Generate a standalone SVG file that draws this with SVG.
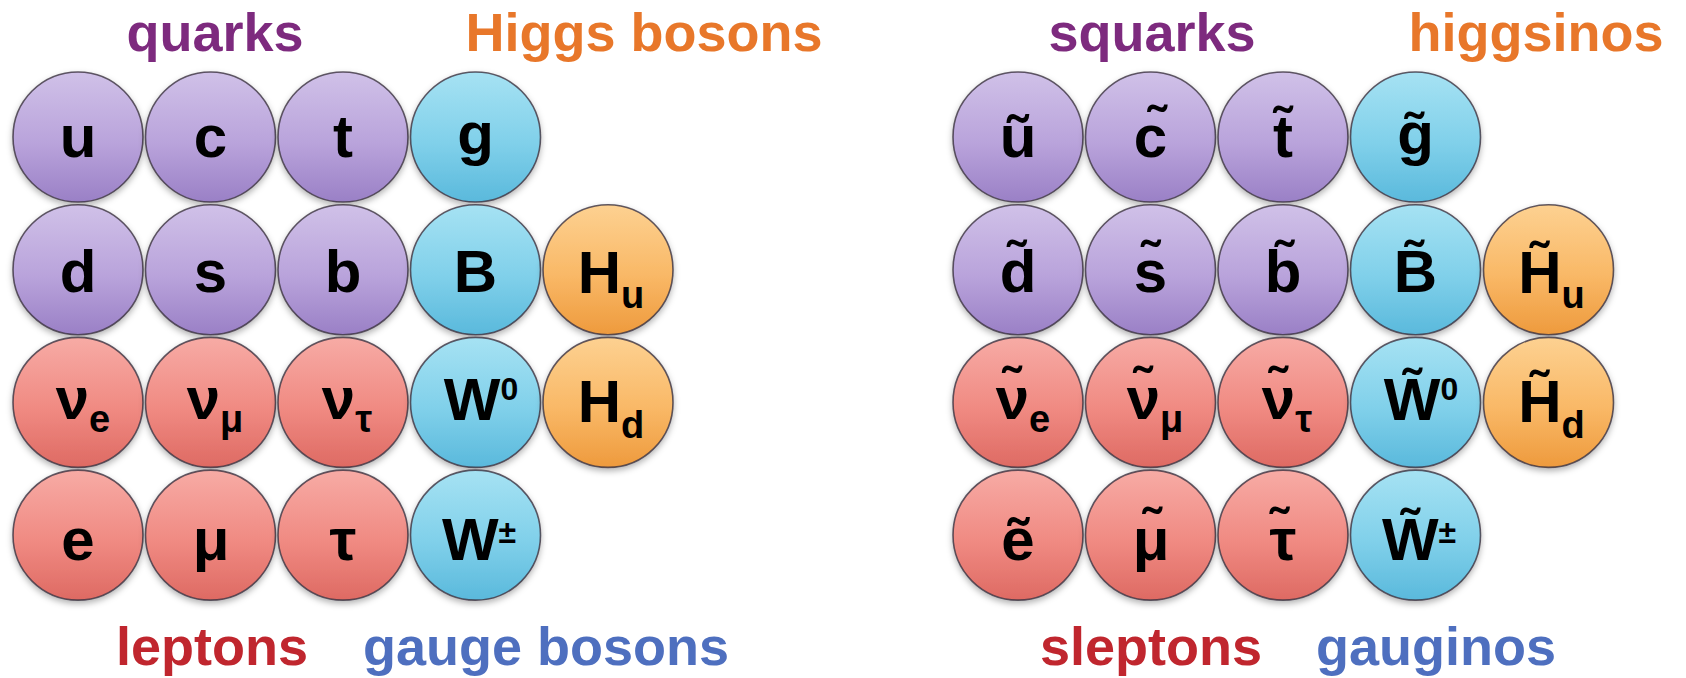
<svg xmlns="http://www.w3.org/2000/svg" width="1686" height="678" viewBox="0 0 1686 678">
<defs>
<style>
.lbl{font-family:"Liberation Sans",Arial,Helvetica,sans-serif;font-weight:bold;font-size:54px;text-anchor:middle}
.sym{font-family:"Liberation Sans",Arial,Helvetica,sans-serif;font-weight:bold;font-size:60px;fill:#000;text-anchor:middle}
.sub{font-size:38px}
.sup{font-size:32px}
.ball{stroke:#3b3240;stroke-width:1.6;stroke-opacity:0.8;filter:url(#sh)}
.pu{fill:url(#gPu)}
.bl{fill:url(#gBl)}
.or{fill:url(#gOr)}
.rd{fill:url(#gRd)}
</style>
<linearGradient id="gPu" x1="0" y1="0" x2="0" y2="1"><stop offset="0" stop-color="#d0c1e8"/><stop offset="0.55" stop-color="#b9a3db"/><stop offset="1" stop-color="#9a80c6"/></linearGradient>
<linearGradient id="gBl" x1="0" y1="0" x2="0" y2="1"><stop offset="0" stop-color="#a6e2f3"/><stop offset="0.55" stop-color="#80d0ea"/><stop offset="1" stop-color="#5ab9dc"/></linearGradient>
<linearGradient id="gOr" x1="0" y1="0" x2="0" y2="1"><stop offset="0" stop-color="#fdd191"/><stop offset="0.55" stop-color="#f9b866"/><stop offset="1" stop-color="#ee9a3d"/></linearGradient>
<linearGradient id="gRd" x1="0" y1="0" x2="0" y2="1"><stop offset="0" stop-color="#f7aba5"/><stop offset="0.55" stop-color="#f08a82"/><stop offset="1" stop-color="#de6a63"/></linearGradient>
<filter id="sh" x="-20%" y="-20%" width="140%" height="150%"><feDropShadow dx="0" dy="3" stdDeviation="3" flood-color="#000" flood-opacity="0.3"/></filter>
</defs>
<rect width="1686" height="678" fill="#fff"/>

<g id="labels">
<text class="lbl" x="215" y="51" fill="#7d2a7e">quarks</text>
<text class="lbl" x="644" y="51" fill="#e8772a">Higgs bosons</text>
<text class="lbl" x="212" y="665" fill="#c0262e">leptons</text>
<text class="lbl" x="546" y="665" fill="#4e6fbf">gauge bosons</text>
<text class="lbl" x="1152" y="51" fill="#7d2a7e">squarks</text>
<text class="lbl" x="1536" y="51" fill="#e8772a">higgsinos</text>
<text class="lbl" x="1151" y="665" fill="#c0262e">sleptons</text>
<text class="lbl" x="1436" y="665" fill="#4e6fbf">gauginos</text>
</g>

<g id="connectors"/>

<!-- Standard Model -->
<g id="sm-u"><circle class="ball pu" cx="78" cy="137" r="65"/><text class="sym" x="78" y="157">u</text></g>
<g id="sm-c"><circle class="ball pu" cx="210.5" cy="137" r="65"/><text class="sym" x="210.5" y="157">c</text></g>
<g id="sm-t"><circle class="ball pu" cx="343" cy="137" r="65"/><text class="sym" x="343" y="157">t</text></g>
<g id="sm-g"><circle class="ball bl" cx="475.5" cy="137" r="65"/><text class="sym" x="475.5" y="154">g</text></g>

<g id="sm-d"><circle class="ball pu" cx="78" cy="269.7" r="65"/><text class="sym" x="78" y="292">d</text></g>
<g id="sm-s"><circle class="ball pu" cx="210.5" cy="269.7" r="65"/><text class="sym" x="210.5" y="292">s</text></g>
<g id="sm-b"><circle class="ball pu" cx="343" cy="269.7" r="65"/><text class="sym" x="343" y="292">b</text></g>
<g id="sm-B"><circle class="ball bl" cx="475.5" cy="269.7" r="65"/><text class="sym" x="475.5" y="292">B</text></g>
<g id="sm-Hu"><circle class="ball or" cx="608" cy="269.7" r="65"/><text class="sym" x="611" y="293">H<tspan class="sub" dy="15">u</tspan></text></g>

<g id="sm-ve"><circle class="ball rd" cx="78" cy="402.4" r="65"/><text class="sym" x="83" y="419">ν<tspan class="sub" dy="13">e</tspan></text></g>
<g id="sm-vmu"><circle class="ball rd" cx="210.5" cy="402.4" r="65"/><text class="sym" x="215" y="419">ν<tspan class="sub" dy="13">μ</tspan></text></g>
<g id="sm-vtau"><circle class="ball rd" cx="343" cy="402.4" r="65"/><text class="sym" x="347" y="419">ν<tspan class="sub" dy="13">τ</tspan></text></g>
<g id="sm-W0"><circle class="ball bl" cx="475.5" cy="402.4" r="65"/><text class="sym" x="481" y="420">W<tspan class="sup" dy="-20">0</tspan></text></g>
<g id="sm-Hd"><circle class="ball or" cx="608" cy="402.4" r="65"/><text class="sym" x="611" y="422">H<tspan class="sub" dy="16">d</tspan></text></g>

<g id="sm-e"><circle class="ball rd" cx="78" cy="535.1" r="65"/><text class="sym" x="78" y="560">e</text></g>
<g id="sm-mu"><circle class="ball rd" cx="210.5" cy="535.1" r="65"/><text class="sym" x="211" y="560">μ</text></g>
<g id="sm-tau"><circle class="ball rd" cx="343" cy="535.1" r="65"/><text class="sym" x="343" y="560">τ</text></g>
<g id="sm-Wpm"><circle class="ball bl" cx="475.5" cy="535.1" r="65"/><text class="sym" x="479" y="560">W<tspan class="sup" dy="-17">±</tspan></text></g>

<!-- Superpartners -->
<g id="sp-u"><circle class="ball pu" cx="1018" cy="137" r="65"/><text class="sym" x="1018" y="157">u&#x303;</text></g>
<g id="sp-c"><circle class="ball pu" cx="1150.5" cy="137" r="65"/><text class="sym" x="1150.5" y="157">c&#x303;</text></g>
<g id="sp-t"><circle class="ball pu" cx="1283" cy="137" r="65"/><text class="sym" x="1283" y="157">t&#x303;</text></g>
<g id="sp-g"><circle class="ball bl" cx="1415.5" cy="137" r="65"/><text class="sym" x="1415.5" y="154">g&#x303;</text></g>

<g id="sp-d"><circle class="ball pu" cx="1018" cy="269.7" r="65"/><text class="sym" x="1018" y="292">d&#x303;</text></g>
<g id="sp-s"><circle class="ball pu" cx="1150.5" cy="269.7" r="65"/><text class="sym" x="1150.5" y="292">s&#x303;</text></g>
<g id="sp-b"><circle class="ball pu" cx="1283" cy="269.7" r="65"/><text class="sym" x="1283" y="292">b&#x303;</text></g>
<g id="sp-B"><circle class="ball bl" cx="1415.5" cy="269.7" r="65"/><text class="sym" x="1415.5" y="292">B&#x303;</text></g>
<g id="sp-Hu"><circle class="ball or" cx="1548.5" cy="269.7" r="65"/><text class="sym" x="1551.5" y="293">H&#x303;<tspan class="sub" dy="15">u</tspan></text></g>

<g id="sp-ve"><circle class="ball rd" cx="1018" cy="402.4" r="65"/><text class="sym" x="1023" y="419">ν&#x303;<tspan class="sub" dy="13">e</tspan></text></g>
<g id="sp-vmu"><circle class="ball rd" cx="1150.5" cy="402.4" r="65"/><text class="sym" x="1155" y="419">ν&#x303;<tspan class="sub" dy="13">μ</tspan></text></g>
<g id="sp-vtau"><circle class="ball rd" cx="1283" cy="402.4" r="65"/><text class="sym" x="1287" y="419">ν&#x303;<tspan class="sub" dy="13">τ</tspan></text></g>
<g id="sp-W0"><circle class="ball bl" cx="1415.5" cy="402.4" r="65"/><text class="sym" x="1421" y="420">W&#x303;<tspan class="sup" dy="-20">0</tspan></text></g>
<g id="sp-Hd"><circle class="ball or" cx="1548.5" cy="402.4" r="65"/><text class="sym" x="1551.5" y="422">H&#x303;<tspan class="sub" dy="16">d</tspan></text></g>

<g id="sp-e"><circle class="ball rd" cx="1018" cy="535.1" r="65"/><text class="sym" x="1018" y="560">e&#x303;</text></g>
<g id="sp-mu"><circle class="ball rd" cx="1150.5" cy="535.1" r="65"/><text class="sym" x="1151" y="560">μ&#x303;</text></g>
<g id="sp-tau"><circle class="ball rd" cx="1283" cy="535.1" r="65"/><text class="sym" x="1283" y="560">τ&#x303;</text></g>
<g id="sp-Wpm"><circle class="ball bl" cx="1415.5" cy="535.1" r="65"/><text class="sym" x="1419" y="560">W&#x303;<tspan class="sup" dy="-17">±</tspan></text></g>
</svg>
